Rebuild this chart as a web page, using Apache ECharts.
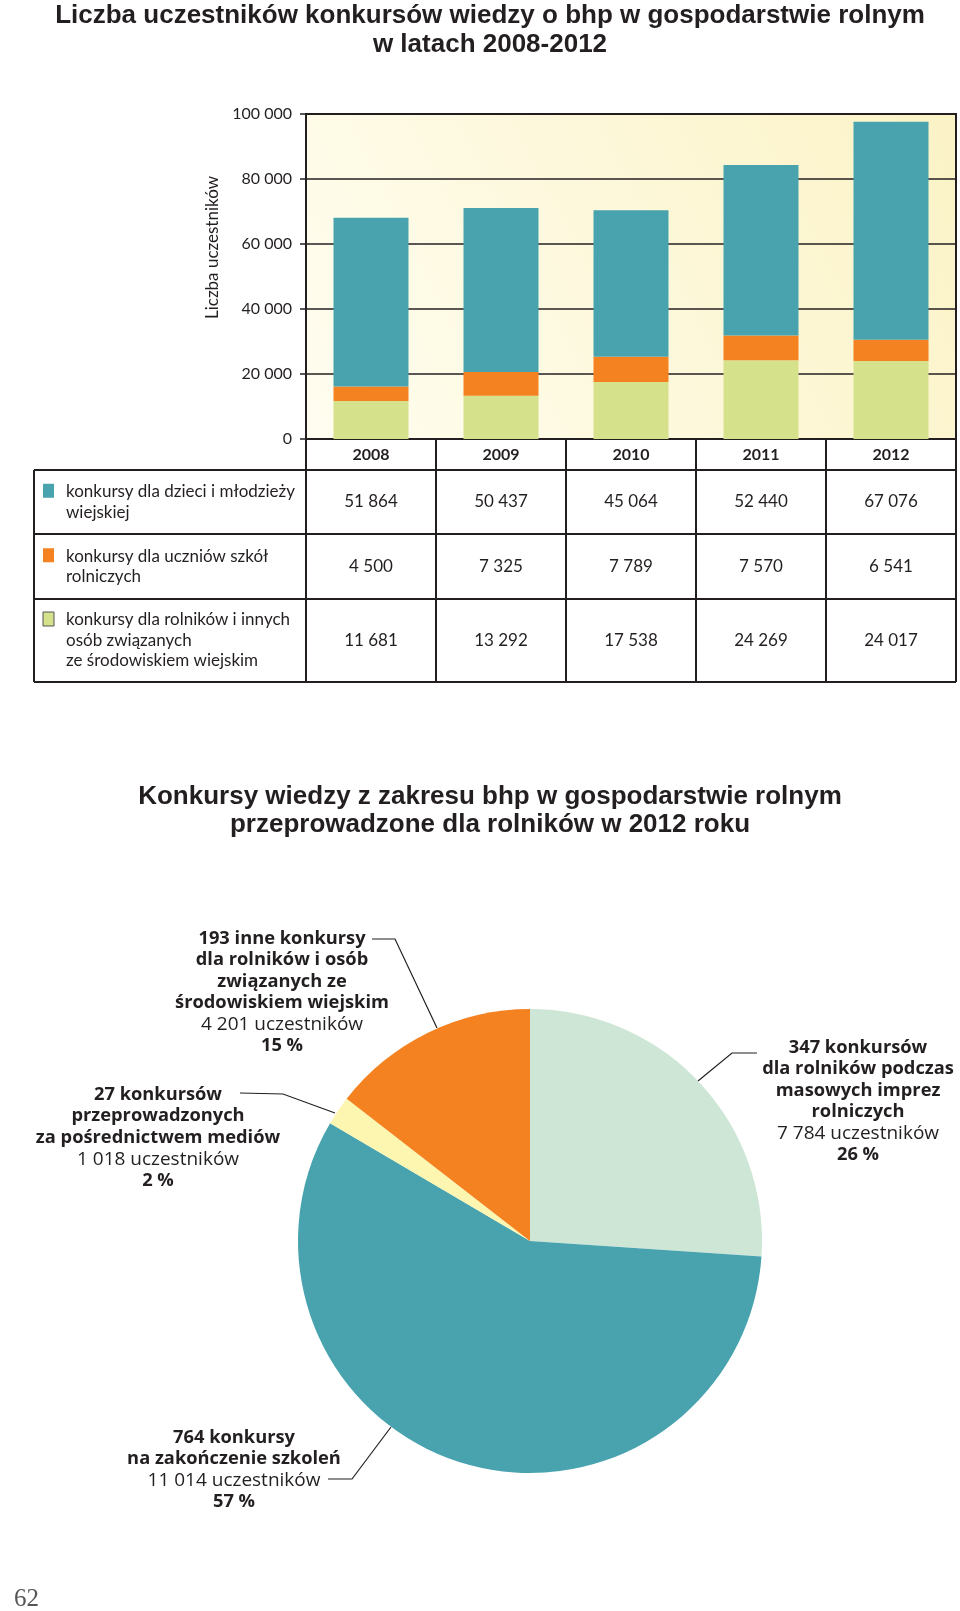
<!DOCTYPE html>
<html><head><meta charset="utf-8">
<script src="https://cdn.jsdelivr.net/npm/echarts@6/dist/echarts.min.js"></script>
<style>html,body{margin:0;padding:0;background:#fff}#c{width:960px;height:1611px}</style>
</head><body><div id="c"></div>
<script>
// ---------- DATA ----------
const years = ['2008', '2009', '2010', '2011', '2012'];
const kidsValues = [51864, 50437, 45064, 52440, 67076];     // konkursy dla dzieci i młodzieży wiejskiej
const schoolValues = [4500, 7325, 7789, 7570, 6541];        // konkursy dla uczniów szkół rolniczych
const farmerValues = [11681, 13292, 17538, 24269, 24017];   // konkursy dla rolników i innych osób...
const rowLabels = [
  'konkursy dla dzieci i młodzieży\nwiejskiej',
  'konkursy dla uczniów szkół\nrolniczych',
  'konkursy dla rolników i innych\nosób związanych\nze środowiskiem wiejskim'
];
const pieCounts = [347, 764, 27, 193];
const pieParticipants = [7784, 11014, 1018, 4201];
const pieDescriptions = [
  'konkursów\ndla rolników podczas\nmasowych imprez\nrolniczych',
  'konkursy\nna zakończenie szkoleń',
  'konkursów\nprzeprowadzonych\nza pośrednictwem mediów',
  'inne konkursy\ndla rolników i osób\nzwiązanych ze\nśrodowiskiem wiejskim'
];
const title1 = 'Liczba uczestników konkursów wiedzy o bhp w gospodarstwie rolnym\nw latach 2008-2012';
const title2 = 'Konkursy wiedzy z zakresu bhp w gospodarstwie rolnym\nprzeprowadzone dla rolników w 2012 roku';
const yAxisName = 'Liczba uczestników';
const pageNumber = '62';

// ---------- STYLE / LAYOUT ----------
const C = { teal: '#48a3ae', orange: '#f58220', green: '#d5e18b', mint: '#cde6d6', yellow: '#fdf6b1', ink: '#231f20' };
const FONT = 'Lato, "Open Sans", sans-serif';
const PFONT = '"Open Sans", Lato, sans-serif';
const G = { left: 306, top: 114, right: 956, bottom: 439 };
const rows = [[470, 534], [534, 599], [599, 682]];
const tableLeft = 34;
const pieCenter = [530, 1241], pieR = 232;
const pieLabelPos = [[858, 1037], [234, 1427], [158, 1084], [282, 928]];
const pieLinePts = [
  [[757, 1053], [732, 1053], [698, 1081]],
  [[328, 1479], [352, 1479], [391, 1427]],
  [[240, 1093], [283, 1094], [335, 1113]],
  [[372, 939], [395, 939], [437, 1028]]
];

const fmt = n => String(n).replace(/\B(?=(\d{3})+(?!\d))/g, ' ');

const chart = echarts.init(document.getElementById('c'), null, { renderer: 'canvas' });

const option = {
  animation: false,
  backgroundColor: '#fff',
  textStyle: { fontFamily: FONT },
  title: [
    { text: title1, left: 490, top: 2, padding: 0, textAlign: 'center',
      textStyle: { fontFamily: '"Liberation Sans", Arial, sans-serif', fontWeight: 'bold', fontSize: 26, lineHeight: 28.6, color: C.ink } },
    { text: title2, left: 490, top: 783, padding: 0, textAlign: 'center',
      textStyle: { fontFamily: '"Liberation Sans", Arial, sans-serif', fontWeight: 'bold', fontSize: 26, lineHeight: 28, color: C.ink } }
  ],
  grid: {
    left: G.left, top: G.top, width: G.right - G.left, height: G.bottom - G.top,
    show: true, borderColor: C.ink, borderWidth: 2,
    backgroundColor: new echarts.graphic.LinearGradient(0, 1, 1, 0, [
      { offset: 0, color: '#fffdf0' }, { offset: 1, color: '#fbf3c6' }
    ])
  },
  xAxis: {
    type: 'category', data: years,
    axisLine: { lineStyle: { color: C.ink, width: 2 } },
    axisTick: { show: true, alignWithLabel: false, length: 243, lineStyle: { color: C.ink, width: 2 } },
    axisLabel: { margin: 8, fontFamily: FONT, fontWeight: 'bold', fontSize: 16, color: C.ink },
    splitLine: { show: false }
  },
  yAxis: {
    type: 'value', min: 0, max: 100000, interval: 20000,
    name: yAxisName, nameLocation: 'middle', nameGap: 79,
    nameTextStyle: { fontFamily: FONT, fontSize: 17, color: C.ink, padding: [0, 0, 0, 58] },
    axisLine: { show: true, lineStyle: { color: C.ink, width: 2 } },
    axisTick: { show: true, length: 6, lineStyle: { color: C.ink, width: 1.5 } },
    axisLabel: { margin: 14, fontFamily: FONT, fontSize: 16, color: C.ink, formatter: v => fmt(v) },
    splitLine: { show: true, lineStyle: { color: C.ink, width: 1.6 } }
  },
  series: [
    { name: 'rolnicy', type: 'bar', stack: 'total', barWidth: 75, data: farmerValues, itemStyle: { color: C.green } },
    { name: 'uczniowie', type: 'bar', stack: 'total', barWidth: 75, data: schoolValues, itemStyle: { color: C.orange } },
    { name: 'dzieci', type: 'bar', stack: 'total', barWidth: 75, data: kidsValues, itemStyle: { color: C.teal } },
    {
      type: 'pie', center: pieCenter, radius: pieR, startAngle: 90, clockwise: true,
      percentPrecision: 0, avoidLabelOverlap: false,
      data: pieCounts.map((v, i) => ({ value: v, name: v + ' ' + pieDescriptions[i],
        itemStyle: { color: [C.mint, C.teal, C.yellow, C.orange][i] } })),
      label: {
        show: true, position: 'outside', color: C.ink, fontFamily: PFONT,
        formatter: p => {
          const lines = p.name.split('\n').map(l => '{b|' + l + '}');
          lines.push('{r|' + fmt(pieParticipants[p.dataIndex]) + ' uczestników}');
          lines.push('{b|' + p.percent + ' %}');
          return lines.join('\n');
        },
        rich: {
          b: { fontFamily: PFONT, fontWeight: 'bold', fontSize: 18.3, lineHeight: 21.5, color: C.ink },
          r: { fontFamily: PFONT, fontSize: 19, lineHeight: 21.5, color: C.ink }
        }
      },
      labelLine: { show: true, lineStyle: { color: C.ink, width: 1.2 } },
      labelLayout: p => ({
        x: pieLabelPos[p.dataIndex][0], y: pieLabelPos[p.dataIndex][1],
        align: 'center', verticalAlign: 'top',
        labelLinePoints: pieLinePts[p.dataIndex]
      }),
      emphasis: { disabled: true }
    }
  ]
};
chart.setOption(option);

// ---------- TABLE (via graphic, positions from the axis) ----------
const colX = years.map(y => chart.convertToPixel({ xAxisIndex: 0 }, y));
const rowValues = [kidsValues, schoolValues, farmerValues];
const rowColors = [C.teal, C.orange, C.green];
const graphic = [];
const line = (x1, y1, x2, y2) => graphic.push({ type: 'line', shape: { x1, y1, x2, y2 }, style: { stroke: C.ink, lineWidth: 2 }, z: 10 });
rows.forEach(r => line(tableLeft, r[0], G.right, r[0]));
line(tableLeft, rows[2][1], G.right, rows[2][1]);
line(tableLeft, rows[0][0], tableLeft, rows[2][1]);
rows.forEach((r, ri) => {
  const cy = (r[0] + r[1]) / 2;
  const nLines = rowLabels[ri].split('\n').length;
  const firstLineY = cy - (nLines - 1) * 20.5 / 2;
  graphic.push({ type: 'rect', shape: { x: 43, y: firstLineY - 8, width: 11, height: 14 },
    style: { fill: rowColors[ri], stroke: ri === 2 ? '#555' : null, lineWidth: 1 }, z: 10 });
  graphic.push({ type: 'text', x: 66, y: cy, z: 10,
    style: { text: rowLabels[ri], fontFamily: FONT, fontSize: 17, lineHeight: 20.5, fill: C.ink, verticalAlign: 'middle', align: 'left' } });
  rowValues[ri].forEach((v, ci) => {
    graphic.push({ type: 'text', x: colX[ci], y: cy, z: 10,
      style: { text: fmt(v), fontFamily: FONT, fontSize: 17, fill: C.ink, align: 'center', verticalAlign: 'middle' } });
  });
});
graphic.push({ type: 'text', x: 14, y: 1599, z: 10,
  style: { text: pageNumber, fontFamily: '"Liberation Serif", serif', fontSize: 25, fill: '#555', align: 'left', verticalAlign: 'middle' } });
chart.setOption({ graphic });
</script></body></html>
